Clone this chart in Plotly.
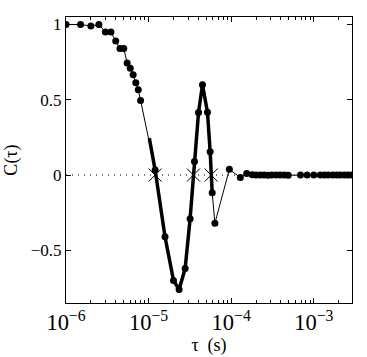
import plotly.graph_objects as go

# measured correlation C(tau)
tau = [1.0e-6, 1.5e-6, 2.0e-6, 2.5e-6, 3.0e-6, 3.5e-6, 4.0e-6, 4.5e-6, 5.0e-6, 5.5e-6,
       6.0e-6, 6.5e-6, 7.0e-6, 7.5e-6, 8.0e-6,
       1.2e-5, 1.58e-5, 2.0e-5, 2.34e-5, 2.77e-5, 3.18e-5, 3.59e-5, 4.02e-5, 4.49e-5,
       5.16e-5, 5.56e-5, 5.89e-5, 6.35e-5, 9.5e-5, 1.29e-4, 1.54e-4,
       1.8e-4, 2.0e-4, 2.25e-4, 2.5e-4, 2.8e-4, 3.1e-4, 3.5e-4, 3.9e-4, 4.4e-4, 4.9e-4,
       6.9e-4, 8.3e-4, 1.0e-3, 1.2e-3, 1.35e-3, 1.5e-3, 1.7e-3, 1.9e-3, 2.1e-3, 2.35e-3,
       2.6e-3, 2.85e-3]
corr = [1.00, 1.00, 0.99, 1.00, 0.95, 0.95, 0.89, 0.84, 0.84, 0.745,
        0.71, 0.667, 0.613, 0.567, 0.495,
        0.033, -0.41, -0.70, -0.76, -0.62, -0.29, 0.09, 0.415, 0.60,
        0.418, 0.155, -0.118, -0.32, 0.038, -0.017, 0.011,
        0.002, 0.0, 0.001, 0.0, -0.001, 0.0, 0.001, 0.0, 0.0, -0.001,
        0.0, 0.001, 0.0, 0.0, 0.0, 0.001, 0.0, 0.0, 0.0, 0.0,
        0.0, 0.0]

# fitted oscillation (thick curve)
fit_tau = [1.02e-5, 1.2e-5, 1.58e-5, 2.0e-5, 2.34e-5, 2.77e-5, 3.18e-5, 3.59e-5,
           4.02e-5, 4.49e-5, 5.16e-5, 5.56e-5, 5.89e-5]
fit_corr = [0.245, 0.033, -0.41, -0.70, -0.76, -0.62, -0.29, 0.09,
            0.415, 0.60, 0.418, 0.155, -0.118]

# zero crossings
zero_tau = [1.2e-5, 3.49e-5, 5.72e-5]
zero_corr = [0, 0, 0]

x_range = [1e-6, 2.9e-3]

fig = go.Figure()
fig.add_trace(go.Scatter(x=x_range, y=[0, 0], mode="lines",
                         line=dict(color="black", width=1, dash="1px,5px")))
fig.add_trace(go.Scatter(x=tau, y=corr, mode="lines", line=dict(color="black", width=1)))
fig.add_trace(go.Scatter(x=fit_tau, y=fit_corr, mode="lines", line=dict(color="black", width=3.5)))
fig.add_trace(go.Scatter(x=tau, y=corr, mode="markers", marker=dict(color="black", size=7)))
fig.add_trace(go.Scatter(x=zero_tau, y=zero_corr, mode="markers",
                         marker=dict(symbol="x-thin-open", size=13, color="black",
                                     line=dict(color="black", width=1))))

font = "Liberation Serif"
fig.update_xaxes(type="log", range=[-6, 0.4624 - 3], dtick=1, exponentformat="power",
                 showline=True, linecolor="black", linewidth=1, mirror="ticks", automargin=False,
                 ticks="inside", ticklen=5, tickcolor="black", showgrid=False, zeroline=False,
                 minor=dict(ticks="inside", ticklen=3, tickcolor="black", showgrid=False),
                 tickfont=dict(family=font, size=18, color="black"),
                 title=dict(text="τ  (s)", font=dict(family=font, size=18, color="black"), standoff=2))
fig.update_yaxes(range=[-0.85, 1.05], tickvals=[-0.5, 0, 0.5, 1], ticktext=["−0.5", "0", "0.5", "1"],
                 showline=True, linecolor="black", linewidth=1, mirror="ticks", automargin=False,
                 ticks="inside", ticklen=5, tickcolor="black", showgrid=False, zeroline=False,
                 tickfont=dict(family=font, size=17, color="black"),
                 title=dict(text="C(τ)", font=dict(family=font, size=18, color="black"), standoff=8))
fig.update_layout(width=367, height=357, margin=dict(l=66, r=15, t=17, b=54),
                  plot_bgcolor="white", paper_bgcolor="white", showlegend=False)

fig.write_html("out.html", config={"displayModeBar": False},
               post_script="document.body.style.margin='0';")
